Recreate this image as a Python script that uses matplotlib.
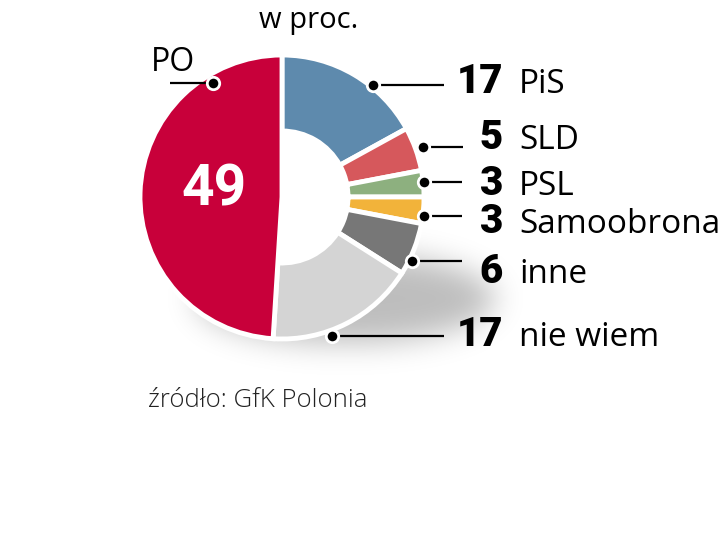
import numpy as np
import matplotlib
matplotlib.use("Agg")
import matplotlib.pyplot as plt
from matplotlib.patches import Circle

# ---- data ----
parties = ["PiS", "SLD", "PSL", "Samoobrona", "inne", "nie wiem", "PO"]
values = [17, 5, 3, 3, 6, 17, 49]
colors = ["#5E8AAD", "#D6585C", "#8DB07F", "#F2B33A", "#777777", "#D4D4D4", "#C8003A"]
title = "w proc."
source = "źródło: GfK Polonia"

W, H = 720, 536
def Y(y):
    return H - y

fig = plt.figure(figsize=(7.2, 5.36), dpi=100)
ax = fig.add_axes([0, 0, 1, 1])

cx, cy = 282, 197
R, r_in = 142, 66

# soft shadow
xx, yy = np.meshgrid(np.arange(W), np.arange(H))
mask = (((xx - 345) / 150.0) ** 2 + ((yy - 298) / 45.0) ** 2 <= 1).astype(float)
sig = 15
k = np.exp(-0.5 * (np.arange(-3 * sig, 3 * sig + 1) / sig) ** 2)
k /= k.sum()
blur = np.apply_along_axis(lambda m: np.convolve(m, k, mode="same"), 1, mask)
blur = np.apply_along_axis(lambda m: np.convolve(m, k, mode="same"), 0, blur)
rgba = np.zeros((H, W, 4))
rgba[..., 3] = blur * 0.26
ax.imshow(rgba, extent=(0, W, 0, H), origin="upper", zorder=0, interpolation="bilinear")

wedges, _ = ax.pie(values, colors=colors, startangle=90, counterclock=False,
                   radius=R, center=(cx, Y(cy)),
                   wedgeprops=dict(width=R - r_in, edgecolor="white", linewidth=3.5))
wedges[-1].set_width(R)  # PO is a full wedge
for w in wedges:
    w.set_zorder(2)
ax.add_patch(Circle((cx, Y(cy)), r_in, facecolor="white", edgecolor="none", zorder=1))

ax.set_xlim(0, W)
ax.set_ylim(0, H)
ax.set_aspect("auto")
ax.axis("off")

# leader lines and dots (layout)
dots = [(373, 85), (423, 147), (424, 182), (424, 216), (412, 261), (332, 336)]
line_end = [444, 463, 462, 462, 462, 444]
baselines = [93, 149, 195, 233, 283, 346]
for (dx, dy), le, bl, v, name in zip(dots, line_end, baselines, values[:-1], parties[:-1]):
    ax.plot([dx, le], [Y(dy), Y(dy)], color="black", lw=1.6, zorder=3, solid_capstyle="butt")
    ax.scatter([dx], [Y(dy)], s=80, color="black", edgecolor="white", linewidth=2, zorder=4)
    ax.text(503, Y(bl), str(v), ha="right", va="baseline", fontsize=29,
            fontfamily="Roboto", fontweight="black", color="black")
    ax.text(519, Y(bl), name, ha="left", va="baseline", fontsize=24,
            fontfamily="Open Sans", color="black")

# PO
ax.plot([170, 213], [Y(83), Y(83)], color="black", lw=1.6, zorder=3, solid_capstyle="butt")
ax.scatter([213], [Y(83)], s=80, color="black", edgecolor="white", linewidth=2, zorder=4)
ax.text(151, Y(71), parties[-1], ha="left", va="baseline", fontsize=23,
        fontfamily="Open Sans", color="black")
ax.text(214, Y(205), str(values[-1]), ha="center", va="baseline", fontsize=41,
        fontfamily="Roboto", fontweight="bold", color="white", zorder=5)

ax.text(309, Y(28), title, ha="center", va="baseline", fontsize=21,
        fontfamily="Open Sans", color="black")
ax.text(148, Y(407), source, ha="left", va="baseline", fontsize=18.5,
        fontfamily="Open Sans", fontweight="light", color="#222222")

fig.savefig("out.png", dpi=100, facecolor="white")
